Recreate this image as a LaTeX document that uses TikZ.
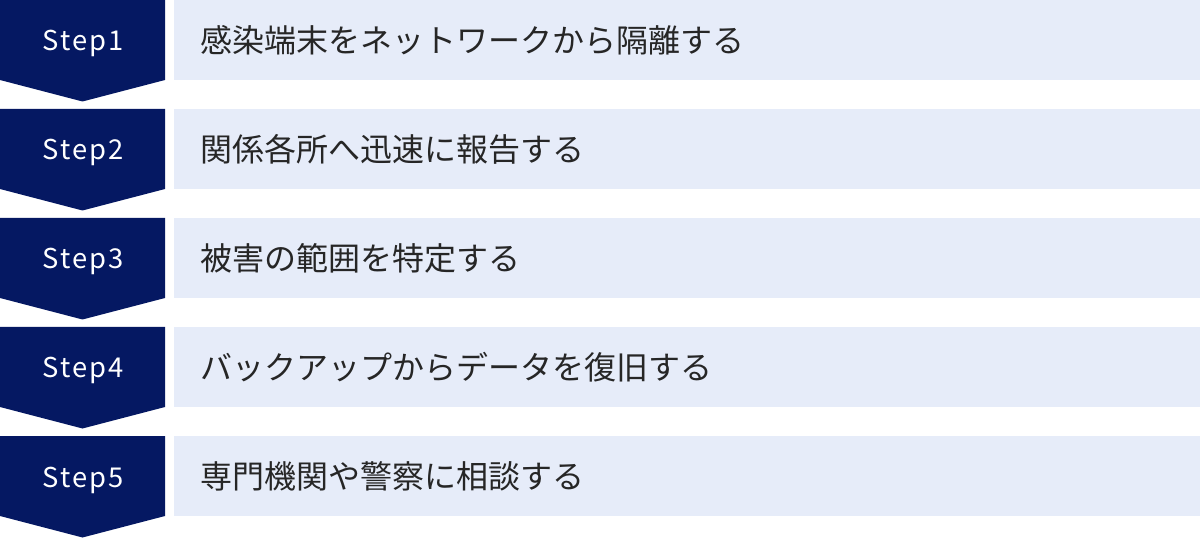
\documentclass[tikz,border=0pt]{standalone}
\usepackage{fontspec}
\usepackage{xcolor}
\usepackage{tikz}
\usetikzlibrary{calc}
\newfontfamily\jpfont{Noto Sans CJK JP}
\newfontfamily\stepfont[LetterSpace=7]{Noto Sans CJK JP}
\definecolor{stepnavy}{HTML}{051862}
\definecolor{taskblue}{HTML}{E6ECF9}

\begin{document}
\begin{tikzpicture}[x=0.75pt,y=-0.75pt,
        steplabel/.style={inner sep=0pt,anchor=base,text=white,font=\stepfont\fontsize{20.5}{24}\selectfont},
        tasklabel/.style={inner sep=0pt,anchor=west,text=black!85,font=\jpfont\fontsize{24}{28}\selectfont}]

        % Canvas of the picture
        \useasboundingbox (0,0) rectangle (1200,538);

        % Step 1: chevron and task bar
        \fill[stepnavy] (0,0) -- (165,0) -- (165,80) -- (82.5,101.5) -- (0,80) -- cycle;
        \fill[taskblue] (174,0) rectangle (1200,80);
        \node[steplabel] (step1) at (83,51) {Step1};
        \node[tasklabel] (task1) at (200,40) {感染端末をネットワークから隔離する};

        % Step 2: chevron and task bar
        \fill[stepnavy] (0,109) -- (165,109) -- (165,189) -- (82.5,210.5) -- (0,189) -- cycle;
        \fill[taskblue] (174,109) rectangle (1200,189);
        \node[steplabel] (step2) at (83,160) {Step2};
        \node[tasklabel] (task2) at (200,149) {関係各所へ迅速に報告する};

        % Step 3: chevron and task bar
        \fill[stepnavy] (0,218) -- (165,218) -- (165,298) -- (82.5,319.5) -- (0,298) -- cycle;
        \fill[taskblue] (174,218) rectangle (1200,298);
        \node[steplabel] (step3) at (83,269) {Step3};
        \node[tasklabel] (task3) at (200,258) {被害の範囲を特定する};

        % Step 4: chevron and task bar
        \fill[stepnavy] (0,327) -- (165,327) -- (165,407) -- (82.5,428.5) -- (0,407) -- cycle;
        \fill[taskblue] (174,327) rectangle (1200,407);
        \node[steplabel] (step4) at (83,378) {Step4};
        \node[tasklabel] (task4) at (200,367) {バックアップからデータを復旧する};

        % Step 5: chevron and task bar
        \fill[stepnavy] (0,436) -- (165,436) -- (165,516) -- (82.5,537.5) -- (0,516) -- cycle;
        \fill[taskblue] (174,436) rectangle (1200,516);
        \node[steplabel] (step5) at (83,487) {Step5};
        \node[tasklabel] (task5) at (200,476) {専門機関や警察に相談する};
    \end{tikzpicture}
\end{document}
